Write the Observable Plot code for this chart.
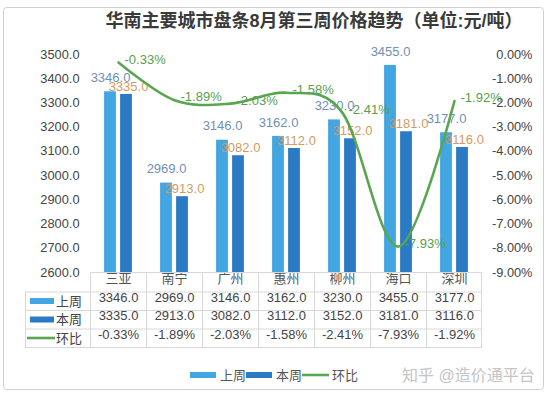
<!DOCTYPE html>
<html>
<head>
<meta charset="utf-8">
<script src="https://cdn.jsdelivr.net/npm/d3@7"></script>
<script src="https://cdn.jsdelivr.net/npm/@observablehq/plot@0.6"></script>
<style>
  html, body { margin: 0; padding: 0; background: #fff; }
  #chart { width: 548px; height: 396px; }
</style>
</head>
<body>
<div id="chart"></div>
<script>
const cities = ["三亚", "南宁", "广州", "惠州", "柳州", "海口", "深圳"];
const lastWeek = [3346, 2969, 3146, 3162, 3230, 3455, 3177];
const thisWeek = [3335, 2913, 3082, 3112, 3152, 3181, 3116];
const change = [-0.33, -1.89, -2.03, -1.58, -2.41, -7.93, -1.92];
const yTicks = [2600, 2700, 2800, 2900, 3000, 3100, 3200, 3300, 3400, 3500];
const seriesNames = ["上周", "本周", "环比"];
const title = "华南主要城市盘条8月第三周价格趋势（单位:元/吨）";
const watermark = "知乎 @造价通平台";

const C_LAST = "#42a6e2";
const C_THIS = "#2b7bc4";
const C_LINE = "#5aa650";
const FONT = "'Liberation Sans', 'Noto Sans CJK SC', sans-serif";

const data = cities.map((c, i) => ({city: c, last: lastWeek[i], cur: thisWeek[i], pct: change[i]}));
// right axis: 0% ↔ 3500, -9% ↔ 2600
const pctToY = p => 3500 + p * 100;

const W = 548, H = 396;
const plot = Plot.plot({
  width: W, height: H,
  marginTop: 54, marginBottom: 124, marginLeft: 87, marginRight: 64,
  style: {fontFamily: FONT, fontSize: "12.8px", color: "#444", background: "transparent"},
  x: {type: "band", domain: cities, paddingInner: 0, paddingOuter: 0, axis: null},
  y: {domain: [2600, 3500], axis: null},
  marks: [
    Plot.axisY({anchor: "left", ticks: yTicks, tickSize: 0, tickPadding: 8,
      tickFormat: d => d.toFixed(1), fill: "#444", fontSize: 12.8}),
    Plot.axisY({anchor: "right", ticks: yTicks, tickSize: 0, tickPadding: 0,
      textAnchor: "end", dx: 48, fill: "#444", fontSize: 12.8,
      tickFormat: d => ((d - 3500) / 100).toFixed(2) + "%"}),
    Plot.barY(data, {x: "city", y1: 2600, y2: "last", fill: C_LAST, insetLeft: 14.1, insetRight: 30.1}),
    Plot.barY(data, {x: "city", y1: 2600, y2: "cur", fill: C_THIS, insetLeft: 30.1, insetRight: 14.1}),
    Plot.text(data, {x: "city", y: "last", text: d => d.last.toFixed(1), dx: -8, dy: -14,
      fill: "#6f90b8", fontSize: 13}),
    Plot.text(data, {x: "city", y: "cur", text: d => d.cur.toFixed(1), dx: 10, dy: -8,
      fill: "#d39b5f", fontSize: 13}),
    Plot.line(data, {x: "city", y: d => pctToY(d.pct), curve: "cardinal", tension: 0,
      stroke: C_LINE, strokeWidth: 2.6}),
    Plot.text(data, {x: "city", y: d => pctToY(d.pct), text: d => d.pct.toFixed(2) + "%",
      textAnchor: "start", dx: 6, dy: -3, fill: "#5a9e4f", fontSize: 13}),
    // table: header row and value rows, placed below the frame
    Plot.text(data, {x: "city", text: "city", frameAnchor: "bottom", dy: 10, fill: "#555", fontSize: 13}),
    Plot.text(data, {x: "city", text: d => d.last.toFixed(1), frameAnchor: "bottom", dy: 29, fill: "#444", fontSize: 13}),
    Plot.text(data, {x: "city", text: d => d.cur.toFixed(1), frameAnchor: "bottom", dy: 47.5, fill: "#444", fontSize: 13}),
    Plot.text(data, {x: "city", text: d => d.pct.toFixed(2) + "%", frameAnchor: "bottom", dy: 66, fill: "#444", fontSize: 13})
  ]
});

document.getElementById("chart").appendChild(plot);

const svg = d3.select(plot);
const xs = plot.scale("x");
const bw = xs.bandwidth;
const x0 = xs.apply(cities[0]);
const x1 = xs.apply(cities[cities.length - 1]) + bw;
const yb = H - 124;

// frame
svg.insert("rect", ":first-child")
  .attr("x", 3.5).attr("y", 7.5).attr("width", 540).attr("height", 382)
  .attr("rx", 3).attr("fill", "#fff").attr("stroke", "#d0d0d0");

// title
svg.append("text").attr("x", 314).attr("y", 21).attr("text-anchor", "middle")
  .attr("dominant-baseline", "central")
  .attr("font-size", 18).attr("font-weight", "bold").attr("fill", "#3a3a3a")
  .attr("font-family", FONT).text(title);

// table lines
const g = svg.append("g").attr("stroke", "#d8d8d8").attr("stroke-width", 1).attr("fill", "none");
const rowsY = [yb + 19.5, yb + 38, yb + 56.5, yb + 75];
g.append("line").attr("x1", x0).attr("x2", x1).attr("y1", yb + 0.5).attr("y2", yb + 0.5);
rowsY.forEach(y => g.append("line").attr("x1", 25).attr("x2", x1).attr("y1", y + 0.5).attr("y2", y + 0.5));
g.append("line").attr("x1", 25.5).attr("x2", 25.5).attr("y1", rowsY[0]).attr("y2", rowsY[3]);
cities.forEach(c => {
  const x = xs.apply(c) + 0.5;
  g.append("line").attr("x1", x).attr("x2", x).attr("y1", yb).attr("y2", rowsY[3]);
});
g.append("line").attr("x1", x1 - 0.5).attr("x2", x1 - 0.5).attr("y1", yb).attr("y2", rowsY[3]);

// table row headers
const rowMid = [yb + 29, yb + 47.5, yb + 66];
const colors = [C_LAST, C_THIS, C_LINE];
seriesNames.forEach((n, i) => {
  if (i < 2) {
    svg.append("rect").attr("x", 30).attr("y", rowMid[i] - 3).attr("width", 24).attr("height", 6).attr("fill", colors[i]);
  } else {
    svg.append("line").attr("x1", 27).attr("x2", 55).attr("y1", rowMid[i]).attr("y2", rowMid[i])
      .attr("stroke", colors[i]).attr("stroke-width", 2.6);
  }
  svg.append("text").attr("x", 82).attr("y", rowMid[i]).attr("text-anchor", "end")
    .attr("dominant-baseline", "central").attr("font-size", 13).attr("fill", "#444")
    .attr("font-family", FONT).text(n);
});

// legend
const ly = 375;
const legendX = [190, 246, 302];
seriesNames.forEach((n, i) => {
  if (i < 2) {
    svg.append("rect").attr("x", legendX[i]).attr("y", ly - 3).attr("width", 26).attr("height", 6).attr("fill", colors[i]);
  } else {
    svg.append("line").attr("x1", legendX[i]).attr("x2", legendX[i] + 27).attr("y1", ly).attr("y2", ly)
      .attr("stroke", colors[i]).attr("stroke-width", 2.6);
  }
  svg.append("text").attr("x", legendX[i] + 30).attr("y", ly).attr("text-anchor", "start")
    .attr("dominant-baseline", "central")
    .attr("font-size", 13).attr("fill", "#555").attr("font-family", FONT).text(n);
});

// watermark text
svg.append("text").attr("x", 402).attr("y", ly).attr("text-anchor", "start")
  .attr("dominant-baseline", "central")
  .attr("font-size", 16).attr("fill", "#c4c4c4").attr("font-family", FONT).text(watermark);
</script>
</body>
</html>
